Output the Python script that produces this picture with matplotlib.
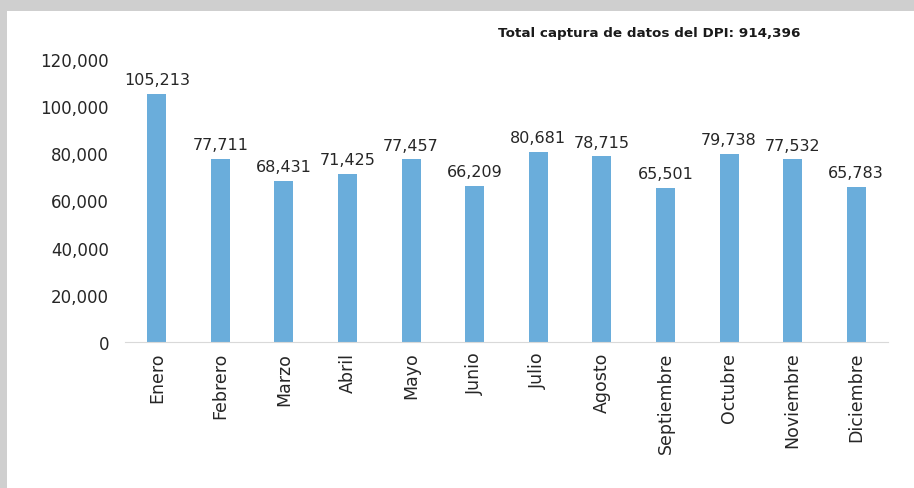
import matplotlib.pyplot as plt
from matplotlib.patches import Rectangle

meses = ['Enero', 'Febrero', 'Marzo', 'Abril', 'Mayo', 'Junio', 'Julio',
         'Agosto', 'Septiembre', 'Octubre', 'Noviembre', 'Diciembre']
capturas = [105213, 77711, 68431, 71425, 77457, 66209, 80681, 78715,
            65501, 79738, 77532, 65783]
titulo = 'Total captura de datos del DPI: 914,396'

fig = plt.figure(figsize=(9.14, 4.89), dpi=100, facecolor='#cfcfcf')
# white panel over the gray frame
fig.patches.append(Rectangle((7 / 914, 0), 1, 1 - 12 / 489, transform=fig.transFigure,
                             facecolor='white', edgecolor='none', zorder=-5))

ax = fig.add_axes([125 / 914, 1 - 343 / 489, (888 - 125) / 914, (343 - 60) / 489])
ax.set_facecolor('none')
x = range(len(meses))
ax.bar(x, capturas, width=0.3, color='#6aaddb')
for i, v in zip(x, capturas):
    ax.text(i, v + 2800, f'{v:,}', ha='center', va='bottom', fontsize=11.5, color='#262626')

ax.set_xlim(-0.5, len(meses) - 0.5)
ax.set_ylim(0, 120000)
ax.set_yticks(range(0, 120001, 20000))
ax.set_yticklabels([f'{t:,}' for t in range(0, 120001, 20000)], fontsize=12, color='#262626')
ax.set_xticks(list(x))
ax.set_xticklabels(meses, rotation=90, fontsize=12.5, color='#262626')
ax.tick_params(length=0, pad=7)
ax.tick_params(axis='y', pad=11.5)
for s in ['top', 'right', 'left']:
    ax.spines[s].set_visible(False)
ax.spines['bottom'].set_color('#d9d9d9')

fig.text(800 / 914, 1 - 33 / 489, titulo, ha='right', va='center',
         fontsize=9.7, fontweight='bold', color='#1a1a1a')

fig.savefig('out.png', dpi=100, facecolor=fig.get_facecolor())
